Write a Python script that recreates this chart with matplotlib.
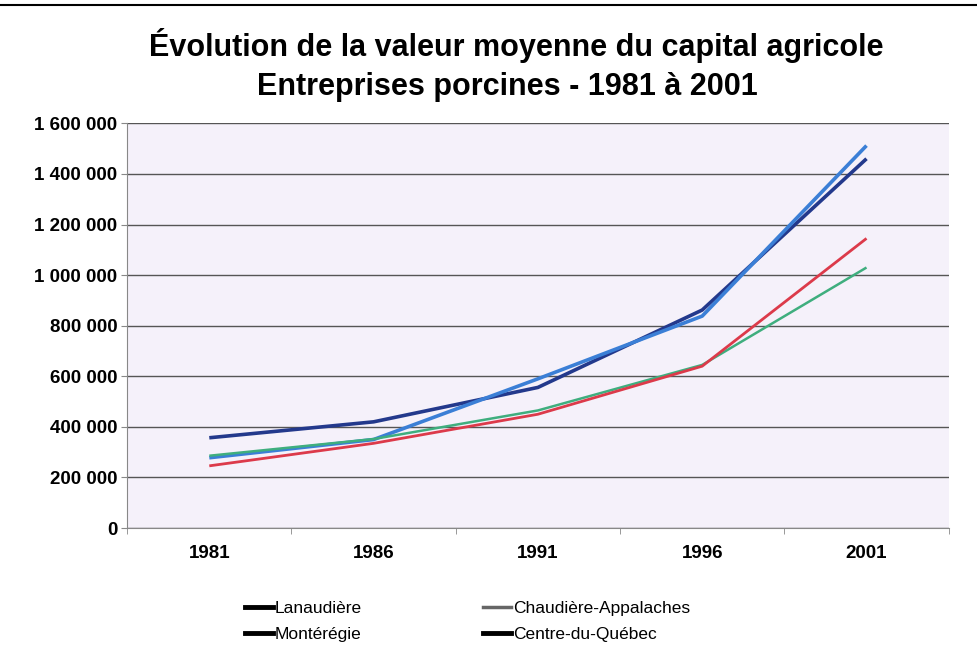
import numpy as np
import matplotlib.pyplot as plt
from matplotlib.lines import Line2D
from matplotlib.ticker import FuncFormatter

# data
years = ["1981", "1986", "1991", "1996", "2001"]
lanaudiere = [357000, 420000, 556000, 862000, 1460000]
monteregie = [278000, 350000, 590000, 838000, 1512000]
chaudiere = [286000, 352000, 465000, 645000, 1030000]
centre = [246000, 335000, 450000, 640000, 1145000]

series = [
    ("Lanaudière", lanaudiere, "#23398c", 2.6),
    ("Montérégie", monteregie, "#3b7fd6", 2.6),
    ("Chaudière-Appalaches", chaudiere, "#3fae7e", 1.8),
    ("Centre-du-Québec", centre, "#dc3a4a", 2.0),
]

plt.rcParams['font.family'] = ['Liberation Sans', 'DejaVu Sans']

fig = plt.figure(figsize=(9.78, 6.56), dpi=100)
ax = fig.add_axes([0.130, 0.195, 0.840, 0.617])
ax.set_facecolor("#f5f1fa")

x = np.arange(len(years))
for name, vals, col, lw in series:
    ax.plot(x, vals, color=col, lw=lw, label=name, solid_capstyle='butt')

ax.set_xlim(-0.5, 4.5)
ax.set_ylim(0, 1600000)
ax.set_yticks(np.arange(0, 1600001, 200000))
ax.yaxis.set_major_formatter(FuncFormatter(lambda v, p: f"{int(v):,}".replace(",", " ")))
ax.grid(axis='y', color="#555555", lw=1.0)
ax.set_axisbelow(True)

ax.set_xticks(x)
ax.set_xticklabels(years)
ax.set_xticks(np.arange(-0.5, 4.6, 1), minor=True)
ax.tick_params(axis='x', which='major', length=0, pad=12)
ax.tick_params(axis='x', which='minor', length=4, color="#888888")
ax.tick_params(axis='y', length=4, color="#888888", pad=3)
for lab in ax.get_xticklabels() + ax.get_yticklabels():
    lab.set_fontweight('bold')
    lab.set_fontsize(13.5)

for s in ['top', 'right']:
    ax.spines[s].set_visible(False)
ax.spines['left'].set_color("#888888")
ax.spines['bottom'].set_color("#888888")

fig.text(0.528, 0.930, "Évolution de la valeur moyenne du capital agricole",
         ha='center', va='center', fontsize=22, fontweight='bold')
fig.text(0.519, 0.868, "Entreprises porcines - 1981 à 2001",
         ha='center', va='center', fontsize=22, fontweight='bold')

# legend handles are black in the printed original
handle_style = [('black', 3.5), ('black', 3.5), ('#666666', 2.5), ('black', 3.5)]
handles = [Line2D([], [], color=c, lw=w) for c, w in handle_style]
fig.legend(handles, [s[0] for s in series], ncol=2, loc='center',
           bbox_to_anchor=(0.478, 0.053), frameon=False, fontsize=12.5,
           handlelength=1.6, handletextpad=0.1, columnspacing=7.0,
           labelspacing=0.65)

# scan border line at top
fig.add_artist(Line2D([0, 1], [0.993, 0.993], color='black', lw=1.5,
                      transform=fig.transFigure))

fig.savefig("out.png", dpi=100)
